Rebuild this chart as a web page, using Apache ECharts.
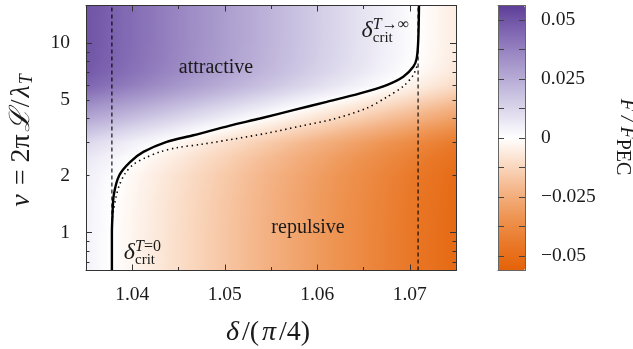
<!DOCTYPE html>
<html>
<head>
<meta charset="utf-8">
<script src="https://cdn.jsdelivr.net/npm/echarts@6/dist/echarts.min.js"></script>
<style>
  html, body { margin: 0; padding: 0; background: #ffffff; }
  #chart { width: 633px; height: 349px; }
</style>
</head>
<body>
<div id="chart"></div>
<script>
// ---- data -------------------------------------------------------------
// columns of the force map, δ/(π/4)
const deltaNodes = [1.035, 1.040, 1.045, 1.050, 1.055, 1.060, 1.065, 1.070, 1.075];
// rows of the force map, ν (bottom to top)
const nuNodes = [0.631, 1, 1.5, 2, 2.5, 3, 3.5, 4, 4.5, 5, 5.5, 6, 7, 8, 10, 15.85];
// F / F_PEC, one row per ν node, one entry per δ node
const forceRows = [
  [0.0039, -0.0031, -0.0101, -0.0171, -0.0241, -0.0311, -0.0381, -0.0451, -0.0521],
  [0.0039, -0.0031, -0.0101, -0.0171, -0.0241, -0.0311, -0.0381, -0.0451, -0.0521],
  [0.0042, -0.0028, -0.0098, -0.0168, -0.0238, -0.0308, -0.0378, -0.0448, -0.0518],
  [0.0050, -0.0020, -0.0090, -0.0160, -0.0230, -0.0300, -0.0370, -0.0440, -0.0510],
  [0.0076,  0.0006, -0.0064, -0.0134, -0.0204, -0.0274, -0.0344, -0.0414, -0.0484],
  [0.0119,  0.0049, -0.0021, -0.0091, -0.0161, -0.0231, -0.0301, -0.0371, -0.0441],
  [0.0193,  0.0123,  0.0053, -0.0017, -0.0087, -0.0157, -0.0227, -0.0297, -0.0367],
  [0.0262,  0.0192,  0.0122,  0.0052, -0.0018, -0.0088, -0.0158, -0.0228, -0.0298],
  [0.0319,  0.0249,  0.0179,  0.0109,  0.0039, -0.0031, -0.0101, -0.0171, -0.0241],
  [0.0372,  0.0302,  0.0232,  0.0162,  0.0092,  0.0022, -0.0048, -0.0118, -0.0188],
  [0.0419,  0.0349,  0.0279,  0.0209,  0.0139,  0.0069, -0.0001, -0.0071, -0.0141],
  [0.0454,  0.0384,  0.0314,  0.0244,  0.0174,  0.0104,  0.0034, -0.0036, -0.0106],
  [0.0487,  0.0417,  0.0347,  0.0277,  0.0207,  0.0137,  0.0067, -0.0003, -0.0073],
  [0.0498,  0.0428,  0.0358,  0.0288,  0.0218,  0.0148,  0.0078,  0.0008, -0.0062],
  [0.0503,  0.0433,  0.0363,  0.0293,  0.0223,  0.0153,  0.0083,  0.0013, -0.0057],
  [0.0504,  0.0434,  0.0364,  0.0294,  0.0224,  0.0154,  0.0084,  0.0014, -0.0056]
];

// critical line F = 0
const critDelta = [1.0378, 1.0378, 1.03785, 1.0380, 1.0386, 1.03976, 1.0412, 1.04372, 1.0466,
                   1.05057, 1.05381, 1.05741, 1.06102, 1.06462, 1.06751, 1.0693, 1.07038,
                   1.07075, 1.07092, 1.0710];
const critNu = [0.631, 1.0, 1.19, 1.575, 2.01, 2.36, 2.67, 3.02, 3.27,
                3.68, 4.01, 4.44, 4.91, 5.44, 6.02, 6.66, 7.52,
                8.33, 10.4, 15.85];

// dotted companion line
const dotDelta = [1.03778, 1.03797, 1.03824, 1.0386, 1.03922, 1.04011, 1.04138, 1.043, 1.04481,
                  1.04751, 1.05092, 1.05454, 1.05814, 1.06174, 1.06535, 1.06751, 1.06931,
                  1.07038, 1.07089];
const dotNu = [1.134, 1.312, 1.537, 1.779, 2.051, 2.29, 2.48, 2.67, 2.81,
               2.93, 3.12, 3.35, 3.65, 3.98, 4.55, 5.20, 5.94,
               6.80, 7.87];

// limiting critical values
const deltaCritT0 = 1.0378;
const deltaCritTinf = 1.0709;

// axes
const deltaRange = [1.035, 1.075];
const nuRange = [0.631, 15.85];
const xMajor = [1.04, 1.05, 1.06, 1.07];
const xMinor = [1.045, 1.055, 1.065];
const yLabels = [1, 2, 5, 10];
const yMajor = [1, 10];
const yMinor = [0.7, 0.8, 0.9, 2, 3, 4, 5, 6, 7, 8, 9];

// colour bar
const cbRange = 0.0562;
const cbTicks = [-0.05, -0.0375, -0.025, -0.0125, 0, 0.0125, 0.025, 0.0375, 0.05];
const cbLabels = [-0.05, -0.025, 0, 0.025, 0.05];
const palette = ['#e46208', '#e97828', '#ee9452', '#f4b487', '#fadac3', '#ffffff',
                 '#dedaed', '#beb4da', '#a08fc7', '#8067b2', '#5e3e98'];

// ---- helpers ------------------------------------------------------------
const SERIF = "'Liberation Serif', 'DejaVu Serif', serif";
const INK = '#1a1a1a';

function hexToRgb(h) {
  const n = parseInt(h.slice(1), 16);
  return [(n >> 16) & 255, (n >> 8) & 255, n & 255];
}
const palRgb = palette.map(hexToRgb);
function colorOf(v) {
  let t = (v + cbRange) / (2 * cbRange);
  t = Math.max(0, Math.min(1, t));
  const p = t * (palRgb.length - 1);
  const i = Math.min(Math.floor(p), palRgb.length - 2);
  const f = p - i;
  const a = palRgb[i], b = palRgb[i + 1];
  return 'rgb(' + Math.round(a[0] + (b[0] - a[0]) * f) + ',' +
                  Math.round(a[1] + (b[1] - a[1]) * f) + ',' +
                  Math.round(a[2] + (b[2] - a[2]) * f) + ')';
}
function fmtMinus(v) { return String(v).replace('-', '\u2212'); }

// cells of the map: corners and the four corner values
const cells = [];
for (let i = 0; i < nuNodes.length - 1; i++) {
  for (let j = 0; j < deltaNodes.length - 1; j++) {
    cells.push([deltaNodes[j], nuNodes[i], deltaNodes[j + 1], nuNodes[i + 1],
                forceRows[i][j], forceRows[i][j + 1], forceRows[i + 1][j], forceRows[i + 1][j + 1]]);
  }
}

// each cell is shaded with a linear gradient along the local slope of F
function renderCell(params, api) {
  const p0 = api.coord([api.value(0), api.value(1)]);
  const p1 = api.coord([api.value(2), api.value(3)]);
  const f00 = api.value(4), f10 = api.value(5), f01 = api.value(6), f11 = api.value(7);
  const w = p1[0] - p0[0], h = p1[1] - p0[1];
  const gu = ((f10 - f00) + (f11 - f01)) / 2;
  const gv = ((f01 - f00) + (f11 - f10)) / 2;
  const gx = gu / w, gy = gv / h;
  const g = Math.hypot(gx, gy);
  const c = (f00 + f10 + f01 + f11) / 4;
  const cx = (p0[0] + p1[0]) / 2, cy = (p0[1] + p1[1]) / 2;
  let fill;
  if (g < 1e-12) {
    fill = colorOf(c);
  } else {
    const ux = gx / g, uy = gy / g;
    const L = Math.hypot(w, h) / 2 + 1;
    const stops = [];
    for (let k = 0; k <= 12; k++) {
      const t = k / 12;
      stops.push({ offset: t, color: colorOf(c + (2 * t - 1) * L * g) });
    }
    fill = new echarts.graphic.LinearGradient(cx - ux * L, cy - uy * L, cx + ux * L, cy + uy * L, stops, true);
  }
  const x0 = Math.min(p0[0], p1[0]), y0 = Math.min(p0[1], p1[1]);
  return {
    type: 'rect',
    shape: { x: x0 - 0.5, y: y0 - 0.5, width: Math.abs(w) + 1, height: Math.abs(h) + 1 },
    style: { fill: fill, stroke: null }
  };
}

const zip = (a, b) => a.map((v, k) => [v, b[k]]);

// ---- chart --------------------------------------------------------------
const chart = echarts.init(document.getElementById('chart'), null, { renderer: 'canvas' });

const axisLine = { show: true, onZero: false, lineStyle: { color: '#333', width: 1 } };
const labelStyle = { fontFamily: SERIF, fontSize: 19.5, color: INK };

function xAxisDef(pos, ticks, len, withLine, withLabels) {
  return {
    type: 'value', gridIndex: 0, position: pos, min: deltaRange[0], max: deltaRange[1], z: 10,
    axisLine: withLine ? axisLine : { show: false, onZero: false },
    splitLine: { show: false },
    axisTick: { show: true, inside: true, length: len, customValues: ticks, lineStyle: { color: '#333' } },
    axisLabel: withLabels
      ? Object.assign({ show: true, margin: 14, customValues: xMajor, formatter: v => v.toFixed(2) }, labelStyle)
      : { show: false }
  };
}
function yAxisDef(pos, ticks, len, withLine, withLabels) {
  return {
    type: 'log', logBase: 10, gridIndex: 0, position: pos, min: nuRange[0], max: nuRange[1], z: 10,
    axisLine: withLine ? axisLine : { show: false, onZero: false },
    splitLine: { show: false },
    minorTick: { show: false },
    axisTick: { show: true, inside: true, length: len, customValues: ticks, lineStyle: { color: '#333' } },
    axisLabel: withLabels
      ? Object.assign({ show: true, margin: 16, customValues: yLabels, formatter: v => String(Math.round(v)) }, labelStyle)
      : { show: false }
  };
}
function cbFrame(pos) {
  return {
    type: 'value', gridIndex: 1, position: pos, min: 0, max: 1, z: 10,
    axisLine: { show: true, onZero: false, lineStyle: { color: '#666', width: 1 } },
    axisTick: { show: false }, axisLabel: { show: false }, splitLine: { show: false }
  };
}
function cbAxis(pos, withLabels) {
  return {
    type: 'value', gridIndex: 1, position: pos, min: -cbRange, max: cbRange, z: 10,
    axisLine: { show: true, onZero: false, lineStyle: { color: '#666', width: 1 } },
    splitLine: { show: false },
    axisTick: { show: true, inside: true, length: 6, customValues: cbTicks, lineStyle: { color: '#444' } },
    axisLabel: withLabels
      ? Object.assign({ show: true, margin: 16, customValues: cbLabels, formatter: fmtMinus }, labelStyle)
      : { show: false }
  };
}

const option = {
  animation: false,
  backgroundColor: '#ffffff',
  grid: [
    { left: 86, top: 5.5, width: 370, height: 265, containLabel: false },
    { left: 498, top: 5.5, width: 27, height: 265, containLabel: false }
  ],
  xAxis: [
    xAxisDef('bottom', xMajor, 6, true, true),
    xAxisDef('bottom', xMinor, 3.5, false, false),
    xAxisDef('top', xMajor, 6, true, false),
    xAxisDef('top', xMinor, 3.5, false, false),
    cbFrame('bottom'),
    cbFrame('top')
  ],
  yAxis: [
    yAxisDef('left', yMajor, 6, true, true),
    yAxisDef('left', yMinor, 3.5, false, false),
    yAxisDef('right', yMajor, 6, true, false),
    yAxisDef('right', yMinor, 3.5, false, false),
    cbAxis('left', false),
    cbAxis('right', true)
  ],
  visualMap: {
    type: 'continuous',
    seriesIndex: [],
    min: -cbRange, max: cbRange,
    orient: 'vertical',
    left: 498, top: 5.5,
    itemWidth: 27, itemHeight: 265,
    padding: 0,
    calculable: false,
    hoverLink: false,
    text: null,
    showLabel: false,
    inRange: { color: palette },
    z: 1
  },
  series: [
    {
      type: 'custom', name: 'F/F_PEC',
      coordinateSystem: 'cartesian2d', xAxisIndex: 0, yAxisIndex: 0,
      data: cells, encode: { x: [0, 2], y: [1, 3] },
      renderItem: renderCell, clip: true, silent: true, z: 1
    },
    {
      type: 'line', name: 'δcrit T=0', xAxisIndex: 0, yAxisIndex: 0,
      data: [[deltaCritT0, nuRange[0]], [deltaCritT0, nuRange[1]]],
      showSymbol: false, silent: true, z: 3,
      lineStyle: { color: '#000', width: 1.1, type: [4, 3] }
    },
    {
      type: 'line', name: 'δcrit T→∞', xAxisIndex: 0, yAxisIndex: 0,
      data: [[deltaCritTinf, nuRange[0]], [deltaCritTinf, nuRange[1]]],
      showSymbol: false, silent: true, z: 3,
      lineStyle: { color: '#000', width: 1.1, type: [4, 3] }
    },
    {
      type: 'line', name: 'dotted', xAxisIndex: 0, yAxisIndex: 0,
      data: zip(dotDelta, dotNu), smooth: 0.3,
      showSymbol: false, silent: true, z: 4,
      lineStyle: { color: '#000', width: 1.6, type: [1.4, 3.6], cap: 'butt' }
    },
    {
      type: 'line', name: 'critical', xAxisIndex: 0, yAxisIndex: 0,
      data: zip(critDelta, critNu), smooth: 0.3,
      showSymbol: false, silent: true, z: 5,
      lineStyle: { color: '#000', width: 2.4 }
    }
  ]
};
chart.setOption(option);

// ---- text annotations ---------------------------------------------------
function px(d, n) { return chart.convertToPixel({ xAxisIndex: 0, yAxisIndex: 0 }, [d, n]); }

function critLabel(anchor, supRich) {
  const p = px(anchor[0], anchor[1]);
  return [
    { type: 'text', x: p[0], y: p[1] + 3, z: 100, silent: true,
      style: { text: 'δ', font: 'italic 24px ' + SERIF, fill: INK, align: 'right', verticalAlign: 'bottom' } },
    { type: 'text', x: p[0], y: p[1] - 7, z: 100, silent: true,
      style: {
        text: supRich, align: 'left', verticalAlign: 'bottom',
        rich: {
          i: { font: 'italic 16px ' + SERIF, fill: INK },
          r: { font: '16px ' + SERIF, fill: INK }
        }
      } },
    { type: 'text', x: p[0], y: p[1] + 6, z: 100, silent: true,
      style: { text: 'crit', font: '15px ' + SERIF, fill: INK, align: 'left', verticalAlign: 'bottom' } }
  ];
}

const pAttr = px(1.04905, 7.4);
const pRep = px(1.059, 1.067);
const gridLeft = 86, gridRight = 456;

chart.setOption({
  graphic: [
    { type: 'text', x: pAttr[0], y: pAttr[1], z: 100, silent: true,
      style: { text: 'attractive', font: '20px ' + SERIF, fill: INK, align: 'center', verticalAlign: 'middle' } },
    { type: 'text', x: pRep[0], y: pRep[1], z: 100, silent: true,
      style: { text: 'repulsive', font: '20px ' + SERIF, fill: INK, align: 'center', verticalAlign: 'middle' } },
    ...critLabel([1.0660, 10.5], '{i|T}{r|\u2192\u221E}'),
    ...critLabel([1.0403, 0.70], '{i|T}{r|=0}'),
    // axis titles
    { type: 'text', x: (gridLeft + gridRight) / 2 - 3, y: 333, z: 100, silent: true,
      style: {
        text: '{i|δ}{r|/(}{i|π}{r|/4)}',
        align: 'center', verticalAlign: 'middle',
        rich: {
          i: { font: 'italic 28px ' + SERIF, fill: INK, padding: [0, 1.5, 0, 1.5] },
          r: { font: '28px ' + SERIF, fill: INK, padding: [0, 1.5, 0, 1.5] }
        }
      } },
    { type: 'text', x: 22, y: 141, rotation: Math.PI / 2, z: 100, silent: true,
      style: {
        text: '{i|ν}{r| = 2π}{i|ℒ}{r|/}{i|λ}{s|T}',
        align: 'center', verticalAlign: 'middle',
        rich: {
          i: { font: 'italic 28px ' + SERIF, fill: INK, padding: [0, 1, 0, 1] },
          r: { font: '28px ' + SERIF, fill: INK, padding: [0, 1, 0, 1] },
          s: { font: 'italic 18px ' + SERIF, fill: INK, padding: [10, 0, 0, 0] }
        }
      } },
    // colour bar title
    { type: 'text', x: 626, y: 137, rotation: -Math.PI / 2, z: 100, silent: true,
      style: {
        text: '{i|F / F}{r|PEC}',
        align: 'center', verticalAlign: 'middle',
        rich: {
          i: { font: 'italic 20px ' + SERIF, fill: INK },
          r: { font: '20px ' + SERIF, fill: INK, padding: [8, 0, 0, 0] }
        }
      } }
  ]
});
</script>
</body>
</html>
